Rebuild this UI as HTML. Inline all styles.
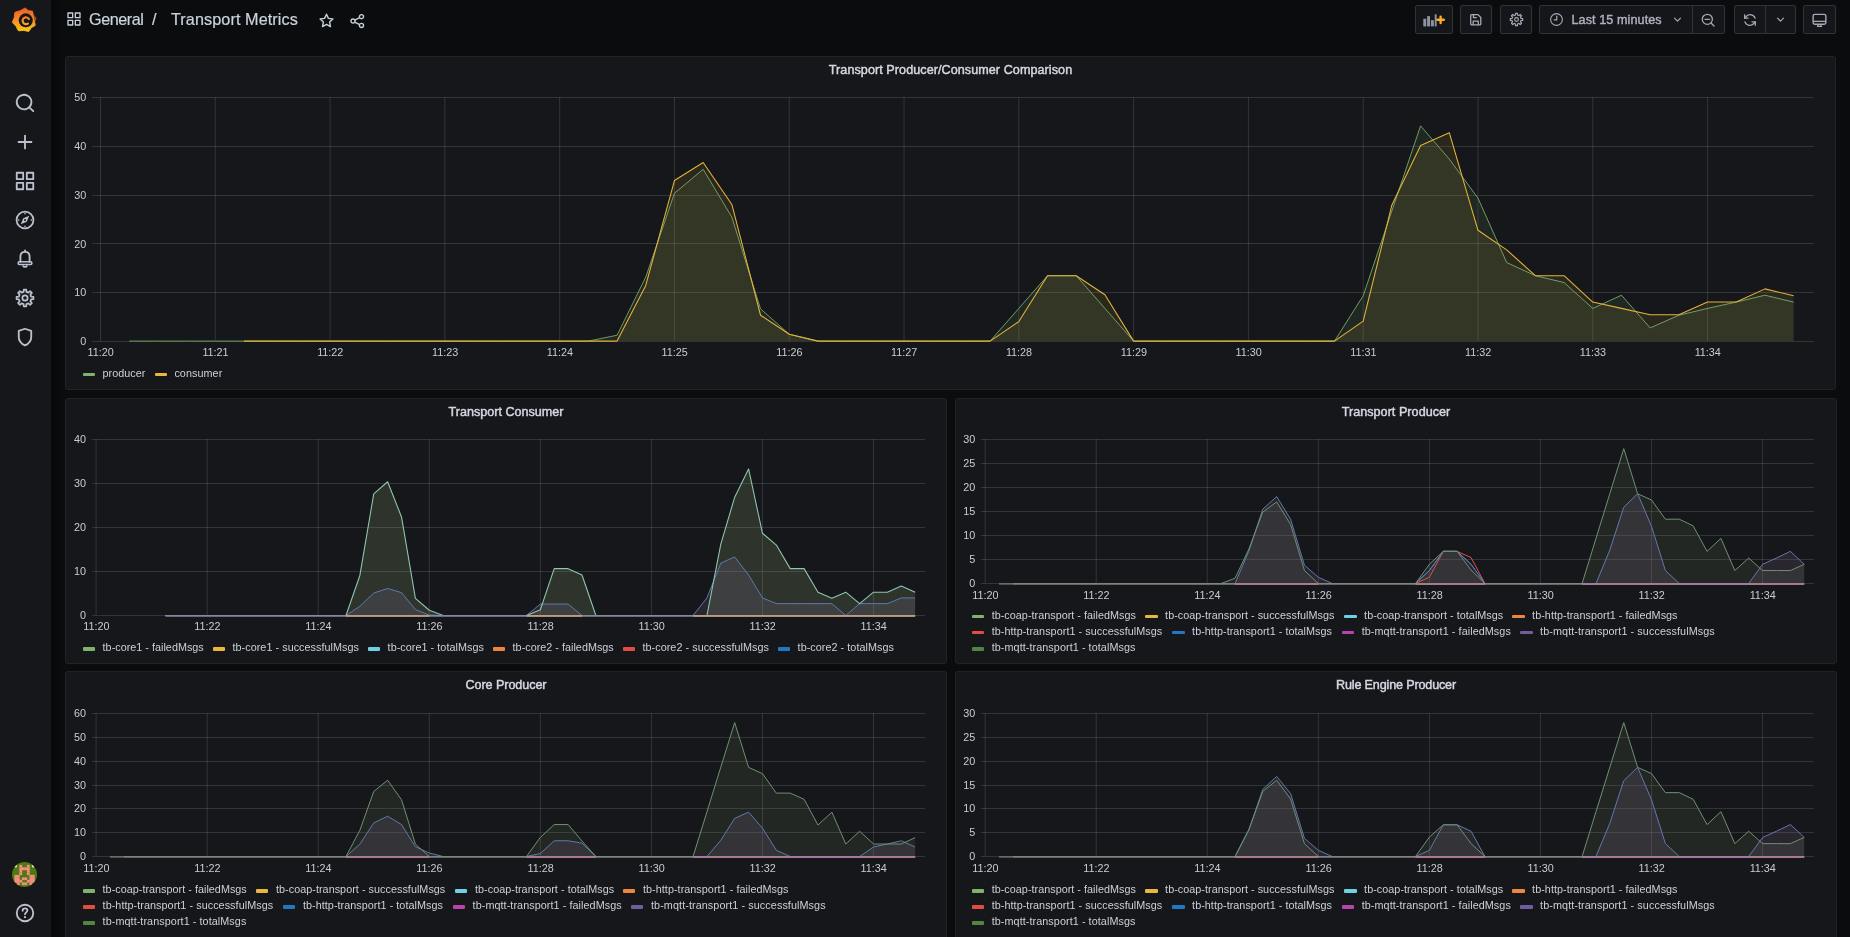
<!DOCTYPE html>
<html lang="en"><head><meta charset="utf-8"><title>Transport Metrics - Grafana</title>
<style>
*{box-sizing:border-box;margin:0;padding:0}
html,body{width:1850px;height:937px;overflow:hidden;background:#0b0c0e;font-family:"Liberation Sans",sans-serif;color:#c7d0d9}
#app{position:absolute;left:0;top:0;width:1850px;height:937px;will-change:transform}
.sidebar{position:absolute;left:0;top:0;width:51px;height:937px;background:#15171a}
.shade{position:absolute;left:51px;top:0;width:12px;height:937px;background:linear-gradient(90deg,#07080a,#090a0c 70%,#0b0c0e)}
.sidebar svg{position:absolute;display:block}
.panel{position:absolute;background:#15171a;border:1px solid #212327;border-radius:3px;overflow:hidden}
.ptitle{position:absolute;left:0;right:0;top:5.4px;text-align:center;font-size:12.6px;font-weight:400;-webkit-text-stroke:0.45px #d5d8e2;color:#d5d8e2;line-height:16px;letter-spacing:0.065px}
.chart{position:absolute;left:-1px;top:-1px}
.tick text{font-size:10.8px;fill:#c9ccd8;font-family:"Liberation Sans",sans-serif}
.legend{position:absolute;left:0;right:0;height:16px;white-space:nowrap;font-size:10.8px;line-height:16px;color:#ccd0da}
.sw{position:absolute;top:8.1px;width:12.3px;height:3.5px;border-radius:1px}
.lt{position:absolute;top:0}

.topbar{position:absolute;left:51px;top:0;right:0;height:40px}
.topbar .abs{position:absolute;margin-left:-51px}
.crumb{position:absolute;left:38px;top:8px;font-size:16.2px;font-weight:400;color:#cbd3dc;-webkit-text-stroke:0.2px #cbd3dc;line-height:22px;white-space:nowrap;letter-spacing:0.1px}
.crumb .c1{letter-spacing:-0.44px}.crumb .c2{margin:0 14.2px 0 8.6px}
.tbtn{position:absolute;top:5px;height:29px;margin-left:-51px;background:#141619;border:1px solid #30333a;border-radius:2px;display:flex;align-items:center;justify-content:center}
.tbtn.left{justify-content:flex-start}
.tbtn.grpl{border-radius:2px 0 0 2px}
.tbtn.grpr{border-radius:0 2px 2px 0}
.tbtn svg{display:block;flex:none}
.tr{font-size:12.6px;font-weight:400;color:#adb3bf;-webkit-text-stroke:0.4px #adb3bf;margin-left:7.9px;letter-spacing:0.09px;display:inline-block}

</style></head><body>
<div id="app">
<div class="shade"></div>
<nav class="sidebar"><svg width="40" height="40" viewBox="0 0 40 40" style="left:5px;top:0"><defs><linearGradient id="lg" gradientUnits="userSpaceOnUse" x1="0" y1="7" x2="0" y2="33"><stop offset="0" stop-color="#f05a28"/><stop offset="0.5" stop-color="#f68b2a"/><stop offset="1" stop-color="#fbd00f"/></linearGradient></defs><path d="M19.33,8.45 L20.15,7.98 L20.89,8.56 L23.35,10.63 L26.57,10.99 L27.48,11.11 L27.68,12.01 L28.30,15.09 L30.60,17.26 L31.25,17.89 L30.87,18.70 L29.51,21.45 L30.15,24.33 L30.26,25.35 L29.40,25.91 L26.32,27.64 L24.51,30.52 L23.75,31.40 L22.60,31.27 L18.63,30.38 L14.57,30.75 L13.41,30.73 L12.78,29.75 L10.94,26.12 L8.07,23.21 L7.35,22.31 L7.70,21.22 L9.32,17.54 L9.62,13.61 L9.90,12.40 L11.03,11.90 L15.22,10.64Z" fill="url(#lg)" stroke="url(#lg)" stroke-width="0.9" stroke-linejoin="round"/><circle cx="20.75" cy="20.35" r="7.0" fill="#15171a"/><path d="M23.9,19.0 A3.4,3.4 0 1 0 22.9,23.6" fill="none" stroke="url(#lg)" stroke-width="2.2" stroke-linecap="round"/><path d="M28.6,15.2 L32.2,16.4 L31.7,20.2 L29.2,19.9 Z" fill="#15171a" opacity="0.45"/></svg><svg width="22" height="22" viewBox="0 0 24 24" style="left:14.0px;top:92.0px" fill="#bcc2cd"><path d="M21.71,20.29,18,16.61A9,9,0,1,0,16.61,18l3.68,3.68a1,1,0,0,0,1.42,0A1,1,0,0,0,21.71,20.29ZM11,18a7,7,0,1,1,7-7A7,7,0,0,1,11,18Z"/></svg><svg width="22" height="22" viewBox="0 0 24 24" style="left:14.0px;top:131.0px" fill="#bcc2cd"><path d="M19,11H13V5a1,1,0,0,0-2,0v6H5a1,1,0,0,0,0,2h6v6a1,1,0,0,0,2,0V13h6a1,1,0,0,0,0-2Z"/></svg><svg width="22" height="22" viewBox="0 0 24 24" style="left:14.0px;top:170.0px" fill="#bcc2cd"><path d="M10,13H3a1,1,0,0,0-1,1v7a1,1,0,0,0,1,1h7a1,1,0,0,0,1-1V14A1,1,0,0,0,10,13ZM9,20H4V15H9ZM21,2H14a1,1,0,0,0-1,1v7a1,1,0,0,0,1,1h7a1,1,0,0,0,1-1V3A1,1,0,0,0,21,2ZM20,9H15V4h5Zm1,4H14a1,1,0,0,0-1,1v7a1,1,0,0,0,1,1h7a1,1,0,0,0,1-1V14A1,1,0,0,0,21,13Zm-1,7H15V15h5ZM10,2H3A1,1,0,0,0,2,3v7a1,1,0,0,0,1,1h7a1,1,0,0,0,1-1V3A1,1,0,0,0,10,2ZM9,9H4V4H9Z"/></svg><svg width="22" height="22" viewBox="0 0 24 24" style="left:14.0px;top:209.0px" fill="#bcc2cd"><circle cx="12" cy="12" r="9.2" fill="none" stroke="#bcc2cd" stroke-width="1.9"/><path d="M12,4.4 V5.8 M12,18.2 V19.6 M4.4,12 H5.8 M18.2,12 H19.6" stroke="#bcc2cd" stroke-width="1.5"/><path d="M16.6,7.4 L13.9,13.9 L7.4,16.6 L10.1,10.1 Z M12,10.9 a1.1,1.1 0 1 0 0.01,0Z" fill-rule="evenodd"/></svg><svg width="22" height="22" viewBox="0 0 24 24" style="left:14.0px;top:248.0px" fill="#bcc2cd"><path d="M12,2.6 V4.2 M12,4.2 C8.8,4.2 7,6.6 7,9.6 V15.2 M12,4.2 C15.2,4.2 17,6.6 17,9.6 V15.2" fill="none" stroke="#bcc2cd" stroke-width="2" stroke-linecap="round"/><rect x="4.6" y="15" width="14.8" height="3" rx="1" fill="none" stroke="#bcc2cd" stroke-width="1.7"/><path d="M10,19.6 C10.4,21 13.6,21 14,19.6" fill="none" stroke="#bcc2cd" stroke-width="1.8" stroke-linecap="round"/></svg><svg width="22" height="22" viewBox="0 0 24 24" style="left:14.0px;top:287.0px" fill="#bcc2cd"><path d="M18.72,10.46 L21.20,10.64 L21.20,13.36 L18.72,13.54 L17.85,15.66 L19.47,17.54 L17.54,19.47 L15.66,17.85 L13.54,18.72 L13.36,21.20 L10.64,21.20 L10.46,18.72 L8.34,17.85 L6.46,19.47 L4.53,17.54 L6.15,15.66 L5.28,13.54 L2.80,13.36 L2.80,10.64 L5.28,10.46 L6.15,8.34 L4.53,6.46 L6.46,4.53 L8.34,6.15 L10.46,5.28 L10.64,2.80 L13.36,2.80 L13.54,5.28 L15.66,6.15 L17.54,4.53 L19.47,6.46 L17.85,8.34Z" fill="none" stroke="#bcc2cd" stroke-width="1.9" stroke-linejoin="round"/><circle cx="12" cy="12" r="2.9" fill="none" stroke="#bcc2cd" stroke-width="1.9"/></svg><svg width="22" height="22" viewBox="0 0 24 24" style="left:14.0px;top:326.0px" fill="#bcc2cd"><path d="M12,3 L5.2,5.2 V12 C5.2,16.2 8,19.4 12,21.2 C16,19.4 18.8,16.2 18.8,12 V5.2 Z" fill="none" stroke="#bcc2cd" stroke-width="2" stroke-linejoin="round"/></svg><svg width="25.2" height="25.2" viewBox="0 0 25.2 25.2" style="left:12.1px;top:861.6px;border-radius:50%"><rect width="25.2" height="25.2" fill="#4a7a10"/><rect x="2.40" y="2.85" width="2.5" height="2.5" fill="#e8e0b0"/><rect x="7.40" y="2.85" width="2.8" height="2.8" fill="#f68c7f"/><rect x="14.90" y="2.85" width="2.8" height="2.8" fill="#f68c7f"/><rect x="19.90" y="2.85" width="2.5" height="2.5" fill="#e8e0b0"/><rect x="7.40" y="5.35" width="2.8" height="2.8" fill="#f68c7f"/><rect x="9.90" y="5.35" width="2.8" height="2.8" fill="#f68c7f"/><rect x="12.40" y="5.35" width="2.8" height="2.8" fill="#f68c7f"/><rect x="14.90" y="5.35" width="2.8" height="2.8" fill="#f68c7f"/><rect x="7.40" y="7.85" width="2.8" height="2.8" fill="#f68c7f"/><rect x="14.90" y="7.85" width="2.8" height="2.8" fill="#f68c7f"/><rect x="7.40" y="10.35" width="2.8" height="2.8" fill="#f68c7f"/><rect x="14.90" y="10.35" width="2.8" height="2.8" fill="#f68c7f"/><rect x="2.40" y="12.85" width="2.8" height="2.8" fill="#f68c7f"/><rect x="4.90" y="12.85" width="2.8" height="2.8" fill="#f68c7f"/><rect x="17.40" y="12.85" width="2.8" height="2.8" fill="#f68c7f"/><rect x="19.90" y="12.85" width="2.8" height="2.8" fill="#f68c7f"/><rect x="2.40" y="15.35" width="2.8" height="2.8" fill="#f68c7f"/><rect x="4.90" y="15.35" width="2.8" height="2.8" fill="#f68c7f"/><rect x="9.90" y="15.35" width="2.8" height="2.8" fill="#f68c7f"/><rect x="12.40" y="15.35" width="2.8" height="2.8" fill="#f68c7f"/><rect x="17.40" y="15.35" width="2.8" height="2.8" fill="#f68c7f"/><rect x="19.90" y="15.35" width="2.8" height="2.8" fill="#f68c7f"/><rect x="2.40" y="17.85" width="2.8" height="2.8" fill="#f68c7f"/><rect x="4.90" y="17.85" width="2.8" height="2.8" fill="#f68c7f"/><rect x="7.40" y="17.85" width="2.8" height="2.8" fill="#f68c7f"/><rect x="14.90" y="17.85" width="2.8" height="2.8" fill="#f68c7f"/><rect x="17.40" y="17.85" width="2.8" height="2.8" fill="#f68c7f"/><rect x="19.90" y="17.85" width="2.8" height="2.8" fill="#f68c7f"/><rect x="4.90" y="20.35" width="2.8" height="2.8" fill="#f68c7f"/><rect x="9.90" y="20.35" width="2.8" height="2.8" fill="#f68c7f"/><rect x="12.40" y="20.35" width="2.8" height="2.8" fill="#f68c7f"/><rect x="17.40" y="20.35" width="2.8" height="2.8" fill="#f68c7f"/></svg><svg width="22" height="22" viewBox="0 0 24 24" style="left:14.0px;top:902.0px" fill="#bcc2cd"><circle cx="12" cy="12" r="9" fill="none" stroke="#bcc2cd" stroke-width="2"/><path d="M9.4,9.6 C9.4,8 10.5,7 12,7 C13.5,7 14.6,8 14.6,9.4 C14.6,11.2 12,11.4 12,13.4" fill="none" stroke="#bcc2cd" stroke-width="2" stroke-linecap="round"/><circle cx="12" cy="16.6" r="1.2"/></svg></nav><header class="topbar"><svg class="abs" width="16" height="16" viewBox="0 0 24 24" fill="#c7d0d9" style="left:65.6px;top:11px"><path d="M10,13H3a1,1,0,0,0-1,1v7a1,1,0,0,0,1,1h7a1,1,0,0,0,1-1V14A1,1,0,0,0,10,13ZM9,20H4V15H9ZM21,2H14a1,1,0,0,0-1,1v7a1,1,0,0,0,1,1h7a1,1,0,0,0,1-1V3A1,1,0,0,0,21,2ZM20,9H15V4h5Zm1,4H14a1,1,0,0,0-1,1v7a1,1,0,0,0,1,1h7a1,1,0,0,0,1-1V14A1,1,0,0,0,21,13Zm-1,7H15V15h5ZM10,2H3A1,1,0,0,0,2,3v7a1,1,0,0,0,1,1h7a1,1,0,0,0,1-1V3A1,1,0,0,0,10,2ZM9,9H4V4H9Z"/></svg><h1 class="crumb"><span class="c1">General</span><span class="c2">/</span><span class="c3">Transport Metrics</span></h1><svg class="abs" width="17" height="17" viewBox="0 0 24 24" style="left:318px;top:12px"><path d="M12,3.2 L14.7,9 L21,9.8 L16.4,14.2 L17.6,20.6 L12,17.5 L6.4,20.6 L7.6,14.2 L3,9.8 L9.3,9 Z" fill="none" stroke="#c7d0d9" stroke-width="2" stroke-linejoin="round"/></svg><svg class="abs" width="16" height="16" viewBox="0 0 24 24" style="left:348.5px;top:12.7px"><g fill="none" stroke="#c7d0d9" stroke-width="2.1"><circle cx="18.7" cy="5.5" r="3.1"/><circle cx="6" cy="12.1" r="3.1"/><circle cx="18.7" cy="18.7" r="3.1"/><path d="M8.7,10.6 L16,6.9 M8.7,13.6 L16,17.3"/></g></svg><div class="tbtn " style="left:1415px;width:38px"><svg width="22" height="22" viewBox="0 0 30 24" fill="#a3aab6" style="width:22px;height:17.6px"><g fill="#8e949f"><rect x="0.4" y="10.5" width="4" height="10.5"/><rect x="5.6" y="7" width="4" height="14"/><rect x="10.8" y="12.5" width="4" height="8.5"/><rect x="16" y="4.5" width="2.6" height="16.5"/></g><path d="M24,7 V17 M19,12 H29" stroke="#15171a" stroke-width="6.5" /><path d="M24,7.6 V16.4 M19.6,12 H28.4" stroke="#ffb020" stroke-width="3.2" stroke-linecap="round"/></svg></div><div class="tbtn " style="left:1460px;width:32px"><svg width="15.5" height="15.5" viewBox="0 0 24 24" fill="#a3aab6" ><path d="M4.2,5.6 C4.2,4.6 4.8,4 5.8,4 H15.4 L19.8,8.4 V18.4 C19.8,19.4 19.2,20 18.2,20 H5.8 C4.8,20 4.2,19.4 4.2,18.4 Z" fill="none" stroke="#a3aab6" stroke-width="2" stroke-linejoin="round"/><path d="M8,20 V14.2 H16 V20 M8.4,4.4 V8.6 H13.6" fill="none" stroke="#a3aab6" stroke-width="2" stroke-linejoin="round"/></svg></div><div class="tbtn " style="left:1500px;width:32px"><svg width="15" height="15" viewBox="0 0 24 24" fill="#a3aab6" ><path d="M19.21,10.34 L21.89,10.53 L21.89,13.47 L19.21,13.66 L18.27,15.93 L20.03,17.96 L17.96,20.03 L15.93,18.27 L13.66,19.21 L13.47,21.89 L10.53,21.89 L10.34,19.21 L8.07,18.27 L6.04,20.03 L3.97,17.96 L5.73,15.93 L4.79,13.66 L2.11,13.47 L2.11,10.53 L4.79,10.34 L5.73,8.07 L3.97,6.04 L6.04,3.97 L8.07,5.73 L10.34,4.79 L10.53,2.11 L13.47,2.11 L13.66,4.79 L15.93,5.73 L17.96,3.97 L20.03,6.04 L18.27,8.07Z" fill="none" stroke="#a3aab6" stroke-width="1.9" stroke-linejoin="round"/><circle cx="12" cy="12" r="3" fill="none" stroke="#a3aab6" stroke-width="1.9"/></svg></div><div class="tbtn left grpl" style="left:1539px;width:154px"><svg width="15" height="15" viewBox="0 0 24 24" fill="#a3aab6" style="margin-left:8.6px"><circle cx="12" cy="12" r="9.4" fill="none" stroke="#a3aab6" stroke-width="1.8"/><path d="M12.4,6.6 V12.4 H8.4" fill="none" stroke="#a3aab6" stroke-width="2" stroke-linecap="round"/></svg><span class="tr">Last 15 minutes</span><svg width="13" height="13" viewBox="0 0 24 24" fill="#a3aab6" style="margin-left:9.6px"><path d="M6.5,9.5 L12,15 L17.5,9.5" fill="none" stroke="#a3aab6" stroke-width="2.2" stroke-linecap="round" stroke-linejoin="round"/></svg></div><div class="tbtn grpr" style="left:1692px;width:33px"><svg width="16" height="16" viewBox="0 0 24 24" fill="#a3aab6" style="margin-left:-2px"><circle cx="11" cy="11" r="7.6" fill="none" stroke="#a3aab6" stroke-width="1.9"/><path d="M16.6,16.6 L21,21 M7.6,11 H14.4" stroke="#a3aab6" stroke-width="2" stroke-linecap="round"/></svg></div><div class="tbtn grpl" style="left:1734px;width:32px"><svg width="16" height="16" viewBox="0 0 24 24" fill="#a3aab6" ><g fill="none" stroke="#a3aab6" stroke-width="2" stroke-linecap="round" stroke-linejoin="round"><path d="M19.6,9.2 A8,8 0 0 0 5.4,7.6 L4,9"/><path d="M4,4.2 V9.2 H9"/><path d="M4.4,14.8 A8,8 0 0 0 18.6,16.4 L20,15"/><path d="M20,19.8 V14.8 H15"/></g></svg></div><div class="tbtn grpr" style="left:1765px;width:31px"><svg width="13" height="13" viewBox="0 0 24 24" fill="#a3aab6" ><path d="M6.5,9.5 L12,15 L17.5,9.5" fill="none" stroke="#a3aab6" stroke-width="2.2" stroke-linecap="round" stroke-linejoin="round"/></svg></div><div class="tbtn " style="left:1803px;width:33px"><svg width="17" height="17" viewBox="0 0 24 24" fill="#a3aab6" style="margin-top:1px"><rect x="3" y="3.4" width="18" height="13.8" rx="2.4" fill="none" stroke="#a3aab6" stroke-width="2"/><path d="M3.4,13.2 H20.6" stroke="#a3aab6" stroke-width="1.8"/><path d="M9.2,20.4 H14.8 M9.8,17.4 V20.2 M14.2,17.4 V20.2" stroke="#a3aab6" stroke-width="1.8" stroke-linecap="round"/></svg></div></header>
<main>
<section class="panel" style="left:65px;top:56px;width:1771px;height:334px"><h2 class="ptitle" style="letter-spacing:0.063px">Transport Producer/Consumer Comparison</h2><svg class="chart" width="1771" height="334" viewBox="65 56 1771 334"><g stroke="rgba(204,204,220,0.16)" stroke-width="1" shape-rendering="crispEdges"><line x1="92" y1="341.5" x2="1813.5" y2="341.5"/><line x1="92" y1="292.5" x2="1813.5" y2="292.5"/><line x1="92" y1="243.5" x2="1813.5" y2="243.5"/><line x1="92" y1="195.5" x2="1813.5" y2="195.5"/><line x1="92" y1="146.5" x2="1813.5" y2="146.5"/><line x1="92" y1="97.5" x2="1813.5" y2="97.5"/></g><g stroke="rgba(204,204,220,0.16)" stroke-width="1"><line x1="100.5" y1="97" x2="100.5" y2="341"/><line x1="215.29" y1="97" x2="215.29" y2="341"/><line x1="330.08" y1="97" x2="330.08" y2="341"/><line x1="444.87" y1="97" x2="444.87" y2="341"/><line x1="559.66" y1="97" x2="559.66" y2="341"/><line x1="674.45" y1="97" x2="674.45" y2="341"/><line x1="789.24" y1="97" x2="789.24" y2="341"/><line x1="904.03" y1="97" x2="904.03" y2="341"/><line x1="1018.82" y1="97" x2="1018.82" y2="341"/><line x1="1133.61" y1="97" x2="1133.61" y2="341"/><line x1="1248.4" y1="97" x2="1248.4" y2="341"/><line x1="1363.19" y1="97" x2="1363.19" y2="341"/><line x1="1477.98" y1="97" x2="1477.98" y2="341"/><line x1="1592.77" y1="97" x2="1592.77" y2="341"/><line x1="1707.56" y1="97" x2="1707.56" y2="341"/></g><g class="tick"><text x="86.3" y="345.1" text-anchor="end">0</text><text x="86.3" y="296.3" text-anchor="end">10</text><text x="86.3" y="247.5" text-anchor="end">20</text><text x="86.3" y="198.7" text-anchor="end">30</text><text x="86.3" y="149.9" text-anchor="end">40</text><text x="86.3" y="101.1" text-anchor="end">50</text><text x="100.7" y="356.2" text-anchor="middle">11:20</text><text x="215.49" y="356.2" text-anchor="middle">11:21</text><text x="330.28" y="356.2" text-anchor="middle">11:22</text><text x="445.07" y="356.2" text-anchor="middle">11:23</text><text x="559.86" y="356.2" text-anchor="middle">11:24</text><text x="674.65" y="356.2" text-anchor="middle">11:25</text><text x="789.44" y="356.2" text-anchor="middle">11:26</text><text x="904.23" y="356.2" text-anchor="middle">11:27</text><text x="1019.02" y="356.2" text-anchor="middle">11:28</text><text x="1133.81" y="356.2" text-anchor="middle">11:29</text><text x="1248.6" y="356.2" text-anchor="middle">11:30</text><text x="1363.39" y="356.2" text-anchor="middle">11:31</text><text x="1478.18" y="356.2" text-anchor="middle">11:32</text><text x="1592.97" y="356.2" text-anchor="middle">11:33</text><text x="1707.76" y="356.2" text-anchor="middle">11:34</text></g><path d="M129.2,341.1 L157.9,341.1 L186.59,341.1 L215.29,341.1 L243.99,341.1 L272.69,341.1 L301.38,341.1 L330.08,341.1 L358.78,341.1 L387.48,341.1 L416.17,341.1 L444.87,341.1 L473.57,341.1 L502.27,341.1 L530.96,341.1 L559.66,341.1 L588.36,341.1 L617.06,335.24 L645.75,277.17 L674.45,193.24 L703.15,169.32 L731.85,217.15 L760.54,308.89 L789.24,334.27 L817.94,341.1 L846.63,341.1 L875.33,341.1 L904.03,341.1 L932.73,341.1 L961.43,341.1 L990.12,341.1 L1018.82,308.4 L1047.52,275.71 L1076.22,275.71 L1104.91,308.4 L1133.61,341.1 L1162.31,341.1 L1191.01,341.1 L1219.7,341.1 L1248.4,341.1 L1277.1,341.1 L1305.8,341.1 L1334.49,341.1 L1363.19,295.72 L1391.89,210.8 L1420.59,125.89 L1449.28,159.08 L1477.98,198.12 L1506.68,262.53 L1535.38,275.71 L1564.07,282.54 L1592.77,308.4 L1621.47,295.23 L1650.17,327.92 L1678.86,315.24 L1707.56,308.4 L1736.26,302.06 L1764.96,295.23 L1793.65,302.06 L1793.65,341.1 L129.2,341.1Z" fill="rgba(126,178,109,0.115)" stroke="none"/><path d="M243.99,341.1 L272.69,341.1 L301.38,341.1 L330.08,341.1 L358.78,341.1 L387.48,341.1 L416.17,341.1 L444.87,341.1 L473.57,341.1 L502.27,341.1 L530.96,341.1 L559.66,341.1 L588.36,341.1 L617.06,341.1 L645.75,285.47 L674.45,180.55 L703.15,162.49 L731.85,204.46 L760.54,315.24 L789.24,334.27 L817.94,341.1 L846.63,341.1 L875.33,341.1 L904.03,341.1 L932.73,341.1 L961.43,341.1 L990.12,341.1 L1018.82,321.58 L1047.52,275.71 L1076.22,275.71 L1104.91,294.74 L1133.61,341.1 L1162.31,341.1 L1191.01,341.1 L1219.7,341.1 L1248.4,341.1 L1277.1,341.1 L1305.8,341.1 L1334.49,341.1 L1363.19,321.09 L1391.89,204.95 L1420.59,145.41 L1449.28,132.72 L1477.98,230.32 L1506.68,249.84 L1535.38,275.71 L1564.07,275.71 L1592.77,302.06 L1621.47,308.4 L1650.17,314.75 L1678.86,314.75 L1707.56,302.06 L1736.26,302.06 L1764.96,288.88 L1793.65,295.72 L1793.65,341.1 L243.99,341.1Z" fill="rgba(234,184,57,0.10)" stroke="none"/><path d="M129.2,341.1 L157.9,341.1 L186.59,341.1 L215.29,341.1 L243.99,341.1 L272.69,341.1 L301.38,341.1 L330.08,341.1 L358.78,341.1 L387.48,341.1 L416.17,341.1 L444.87,341.1 L473.57,341.1 L502.27,341.1 L530.96,341.1 L559.66,341.1 L588.36,341.1 L617.06,335.24 L645.75,277.17 L674.45,193.24 L703.15,169.32 L731.85,217.15 L760.54,308.89 L789.24,334.27 L817.94,341.1 L846.63,341.1 L875.33,341.1 L904.03,341.1 L932.73,341.1 L961.43,341.1 L990.12,341.1 L1018.82,308.4 L1047.52,275.71 L1076.22,275.71 L1104.91,308.4 L1133.61,341.1 L1162.31,341.1 L1191.01,341.1 L1219.7,341.1 L1248.4,341.1 L1277.1,341.1 L1305.8,341.1 L1334.49,341.1 L1363.19,295.72 L1391.89,210.8 L1420.59,125.89 L1449.28,159.08 L1477.98,198.12 L1506.68,262.53 L1535.38,275.71 L1564.07,282.54 L1592.77,308.4 L1621.47,295.23 L1650.17,327.92 L1678.86,315.24 L1707.56,308.4 L1736.26,302.06 L1764.96,295.23 L1793.65,302.06" fill="none" stroke="#7EB26D" stroke-width="1.0" stroke-linejoin="round" opacity="0.85"/><path d="M243.99,341.1 L272.69,341.1 L301.38,341.1 L330.08,341.1 L358.78,341.1 L387.48,341.1 L416.17,341.1 L444.87,341.1 L473.57,341.1 L502.27,341.1 L530.96,341.1 L559.66,341.1 L588.36,341.1 L617.06,341.1 L645.75,285.47 L674.45,180.55 L703.15,162.49 L731.85,204.46 L760.54,315.24 L789.24,334.27 L817.94,341.1 L846.63,341.1 L875.33,341.1 L904.03,341.1 L932.73,341.1 L961.43,341.1 L990.12,341.1 L1018.82,321.58 L1047.52,275.71 L1076.22,275.71 L1104.91,294.74 L1133.61,341.1 L1162.31,341.1 L1191.01,341.1 L1219.7,341.1 L1248.4,341.1 L1277.1,341.1 L1305.8,341.1 L1334.49,341.1 L1363.19,321.09 L1391.89,204.95 L1420.59,145.41 L1449.28,132.72 L1477.98,230.32 L1506.68,249.84 L1535.38,275.71 L1564.07,275.71 L1592.77,302.06 L1621.47,308.4 L1650.17,314.75 L1678.86,314.75 L1707.56,302.06 L1736.26,302.06 L1764.96,288.88 L1793.65,295.72" fill="none" stroke="#e2b23b" stroke-width="1.08" stroke-linejoin="round" opacity="1"/></svg><div class="legend" style="top:307.6px"><i class="sw" style="left:16.8px;background:#7EB26D"></i><span class="lt" style="left:36.6px;letter-spacing:0.009px">producer</span><i class="sw" style="left:88.6px;background:#EAB839"></i><span class="lt" style="left:108.4px;letter-spacing:0.062px">consumer</span></div></section><section class="panel" style="left:65px;top:398px;width:882px;height:266px"><h2 class="ptitle" style="letter-spacing:0.004px">Transport Consumer</h2><svg class="chart" width="882" height="266" viewBox="65 398 882 266"><g stroke="rgba(204,204,220,0.16)" stroke-width="1" shape-rendering="crispEdges"><line x1="92" y1="615.5" x2="925" y2="615.5"/><line x1="92" y1="571.5" x2="925" y2="571.5"/><line x1="92" y1="527.5" x2="925" y2="527.5"/><line x1="92" y1="483.5" x2="925" y2="483.5"/><line x1="92" y1="439.5" x2="925" y2="439.5"/></g><g stroke="rgba(204,204,220,0.16)" stroke-width="1"><line x1="96.1" y1="439" x2="96.1" y2="615"/><line x1="207.16" y1="439" x2="207.16" y2="615"/><line x1="318.22" y1="439" x2="318.22" y2="615"/><line x1="429.28" y1="439" x2="429.28" y2="615"/><line x1="540.34" y1="439" x2="540.34" y2="615"/><line x1="651.4" y1="439" x2="651.4" y2="615"/><line x1="762.46" y1="439" x2="762.46" y2="615"/><line x1="873.52" y1="439" x2="873.52" y2="615"/></g><g class="tick"><text x="86" y="619.1" text-anchor="end">0</text><text x="86" y="575.1" text-anchor="end">10</text><text x="86" y="531.1" text-anchor="end">20</text><text x="86" y="487.1" text-anchor="end">30</text><text x="86" y="443.1" text-anchor="end">40</text><text x="96.3" y="630.2" text-anchor="middle">11:20</text><text x="207.36" y="630.2" text-anchor="middle">11:22</text><text x="318.42" y="630.2" text-anchor="middle">11:24</text><text x="429.48" y="630.2" text-anchor="middle">11:26</text><text x="540.54" y="630.2" text-anchor="middle">11:28</text><text x="651.6" y="630.2" text-anchor="middle">11:30</text><text x="762.66" y="630.2" text-anchor="middle">11:32</text><text x="873.72" y="630.2" text-anchor="middle">11:34</text></g><path d="M165.51,615.5 L179.39,615.5 L193.28,615.5 L207.16,615.5 L221.04,615.5 L234.92,615.5 L248.81,615.5 L262.69,615.5 L276.57,615.5 L290.46,615.5 L304.34,615.5 L318.22,615.5 L332.1,615.5 L345.99,615.5 L359.87,575.46 L373.75,493.84 L387.63,481.74 L401.51,516.94 L415.4,598.34 L429.28,610.22 L443.16,615.5 L457.04,615.5 L470.93,615.5 L484.81,615.5 L498.69,615.5 L512.58,615.5 L526.46,615.5 L540.34,609.78 L554.22,568.64 L568.11,568.64 L581.99,575.02 L595.87,615.5 L609.75,615.5 L623.63,615.5 L637.52,615.5 L651.4,615.5 L665.28,615.5 L679.17,615.5 L693.05,615.5 L706.93,615.5 L720.81,544.22 L734.7,497.14 L748.58,468.98 L762.46,533.22 L776.34,545.1 L790.23,568.64 L804.11,568.64 L817.99,592.18 L831.87,598.34 L845.75,592.18 L859.64,603.62 L873.52,592.18 L887.4,592.18 L901.29,586.02 L915.17,592.18 L915.17,615.5 L165.51,615.5Z" fill="rgba(195,215,145,0.15)" stroke="none"/><path d="M165.51,615.5 L179.39,615.5 L193.28,615.5 L207.16,615.5 L221.04,615.5 L234.92,615.5 L248.81,615.5 L262.69,615.5 L276.57,615.5 L290.46,615.5 L304.34,615.5 L318.22,615.5 L332.1,615.5 L345.99,615.5 L359.87,606.26 L373.75,593.06 L387.63,588.44 L401.51,592.62 L415.4,609.56 L429.28,615.06 L443.16,615.5 L457.04,615.5 L470.93,615.5 L484.81,615.5 L498.69,615.5 L512.58,615.5 L526.46,615.5 L540.34,604.06 L554.22,604.06 L568.11,604.06 L581.99,615.5 L595.87,615.5 L609.75,615.5 L623.63,615.5 L637.52,615.5 L651.4,615.5 L665.28,615.5 L679.17,615.5 L693.05,615.5 L706.93,597.9 L720.81,563.14 L734.7,556.98 L748.58,575.02 L762.46,597.9 L776.34,603.62 L790.23,603.62 L804.11,603.62 L817.99,603.62 L831.87,603.62 L845.75,615.5 L859.64,603.62 L873.52,603.62 L887.4,603.62 L901.29,597.9 L915.17,597.9 L915.17,615.5 L165.51,615.5Z" fill="rgba(155,131,181,0.15)" stroke="none"/><path d="M165.51,615.5 L179.39,615.5 L193.28,615.5 L207.16,615.5 L221.04,615.5 L234.92,615.5 L248.81,615.5 L262.69,615.5 L276.57,615.5 L290.46,615.5 L304.34,615.5 L318.22,615.5 L332.1,615.5 L345.99,615.5 L359.87,606.26 L373.75,593.06 L387.63,588.44 L401.51,592.62 L415.4,609.56 L429.28,615.06 L443.16,615.5 L457.04,615.5 L470.93,615.5 L484.81,615.5 L498.69,615.5 L512.58,615.5 L526.46,615.5 L540.34,604.06 L554.22,604.06 L568.11,604.06 L581.99,615.5 L595.87,615.5 L609.75,615.5 L623.63,615.5 L637.52,615.5 L651.4,615.5 L665.28,615.5 L679.17,615.5 L693.05,615.5 L706.93,597.9 L720.81,563.14 L734.7,556.98 L748.58,575.02 L762.46,597.9 L776.34,603.62 L790.23,603.62 L804.11,603.62 L817.99,603.62 L831.87,603.62 L845.75,615.5 L859.64,603.62 L873.52,603.62 L887.4,603.62 L901.29,597.9 L915.17,597.9" fill="none" stroke="#5b7ab0" stroke-width="1.0" stroke-linejoin="round" opacity="1"/><path d="M165.51,615.5 L179.39,615.5 L193.28,615.5 L207.16,615.5 L221.04,615.5 L234.92,615.5 L248.81,615.5 L262.69,615.5 L276.57,615.5 L290.46,615.5 L304.34,615.5 L318.22,615.5 L332.1,615.5 L345.99,615.5 L359.87,575.46 L373.75,493.84 L387.63,481.74 L401.51,516.94 L415.4,598.34 L429.28,610.22 L443.16,615.5 L457.04,615.5 L470.93,615.5 L484.81,615.5 L498.69,615.5 L512.58,615.5 L526.46,615.5 L540.34,609.78 L554.22,568.64 L568.11,568.64 L581.99,575.02 L595.87,615.5 L609.75,615.5 L623.63,615.5 L637.52,615.5 L651.4,615.5 L665.28,615.5 L679.17,615.5 L693.05,615.5 L706.93,615.5 L720.81,544.22 L734.7,497.14 L748.58,468.98 L762.46,533.22 L776.34,545.1 L790.23,568.64 L804.11,568.64 L817.99,592.18 L831.87,598.34 L845.75,592.18 L859.64,603.62 L873.52,592.18 L887.4,592.18 L901.29,586.02 L915.17,592.18" fill="none" stroke="#8fc6ad" stroke-width="1.08" stroke-linejoin="round" opacity="1"/><line x1="165.51" y1="615.9" x2="915.17" y2="615.9" stroke="#8587a0" stroke-width="1.6"/><line x1="345.99" y1="615.9" x2="429.28" y2="615.9" stroke="#c29c7a" stroke-width="1.6"/><line x1="526.46" y1="615.9" x2="581.99" y2="615.9" stroke="#c29c7a" stroke-width="1.6"/><line x1="693.05" y1="615.9" x2="915.17" y2="615.9" stroke="#c29c7a" stroke-width="1.6"/></svg><div class="legend" style="top:240.1px"><i class="sw" style="left:16.8px;background:#7EB26D"></i><span class="lt" style="left:36.6px;letter-spacing:0.018px">tb-core1 - failedMsgs</span><i class="sw" style="left:146.7px;background:#EAB839"></i><span class="lt" style="left:166.5px;letter-spacing:0.044px">tb-core1 - successfulMsgs</span><i class="sw" style="left:301.8px;background:#6ED0E0"></i><span class="lt" style="left:321.6px;letter-spacing:0.045px">tb-core1 - totalMsgs</span><i class="sw" style="left:426.8px;background:#EF843C"></i><span class="lt" style="left:446.6px;letter-spacing:0.018px">tb-core2 - failedMsgs</span><i class="sw" style="left:556.7px;background:#E24D42"></i><span class="lt" style="left:576.5px;letter-spacing:0.044px">tb-core2 - successfulMsgs</span><i class="sw" style="left:711.8px;background:#1F78C1"></i><span class="lt" style="left:731.6px;letter-spacing:0.045px">tb-core2 - totalMsgs</span></div></section><section class="panel" style="left:955px;top:398px;width:882px;height:266px"><h2 class="ptitle" style="letter-spacing:0.032px">Transport Producer</h2><svg class="chart" width="882" height="266" viewBox="955 398 882 266"><g stroke="rgba(204,204,220,0.16)" stroke-width="1" shape-rendering="crispEdges"><line x1="981" y1="583.5" x2="1814" y2="583.5"/><line x1="981" y1="559.5" x2="1814" y2="559.5"/><line x1="981" y1="535.5" x2="1814" y2="535.5"/><line x1="981" y1="511.5" x2="1814" y2="511.5"/><line x1="981" y1="487.5" x2="1814" y2="487.5"/><line x1="981" y1="463.5" x2="1814" y2="463.5"/><line x1="981" y1="439.5" x2="1814" y2="439.5"/></g><g stroke="rgba(204,204,220,0.16)" stroke-width="1"><line x1="985.16" y1="439" x2="985.16" y2="583"/><line x1="1096.22" y1="439" x2="1096.22" y2="583"/><line x1="1207.28" y1="439" x2="1207.28" y2="583"/><line x1="1318.34" y1="439" x2="1318.34" y2="583"/><line x1="1429.4" y1="439" x2="1429.4" y2="583"/><line x1="1540.46" y1="439" x2="1540.46" y2="583"/><line x1="1651.52" y1="439" x2="1651.52" y2="583"/><line x1="1762.58" y1="439" x2="1762.58" y2="583"/></g><g class="tick"><text x="975.2" y="587.1" text-anchor="end">0</text><text x="975.2" y="563.1" text-anchor="end">5</text><text x="975.2" y="539.1" text-anchor="end">10</text><text x="975.2" y="515.1" text-anchor="end">15</text><text x="975.2" y="491.1" text-anchor="end">20</text><text x="975.2" y="467.1" text-anchor="end">25</text><text x="975.2" y="443.1" text-anchor="end">30</text><text x="985.36" y="599.2" text-anchor="middle">11:20</text><text x="1096.42" y="599.2" text-anchor="middle">11:22</text><text x="1207.48" y="599.2" text-anchor="middle">11:24</text><text x="1318.54" y="599.2" text-anchor="middle">11:26</text><text x="1429.6" y="599.2" text-anchor="middle">11:28</text><text x="1540.66" y="599.2" text-anchor="middle">11:30</text><text x="1651.72" y="599.2" text-anchor="middle">11:32</text><text x="1762.78" y="599.2" text-anchor="middle">11:34</text></g><path d="M999.04,583.5 L1012.92,583.5 L1026.81,583.5 L1040.69,583.5 L1054.57,583.5 L1068.45,583.5 L1082.34,583.5 L1096.22,583.5 L1110.1,583.5 L1123.98,583.5 L1137.87,583.5 L1151.75,583.5 L1165.63,583.5 L1179.51,583.5 L1193.4,583.5 L1207.28,583.5 L1221.16,583.5 L1235.05,578.22 L1248.93,548.94 L1262.81,511.98 L1276.69,501.9 L1290.58,524.46 L1304.46,570.54 L1318.34,583.5 L1332.22,583.5 L1346.11,583.5 L1359.99,583.5 L1373.87,583.5 L1387.75,583.5 L1401.63,583.5 L1415.52,583.5 L1429.4,564.3 L1443.28,551.34 L1457.16,551.34 L1471.05,570.06 L1484.93,583.5 L1498.81,583.5 L1512.69,583.5 L1526.58,583.5 L1540.46,583.5 L1554.34,583.5 L1568.22,583.5 L1582.11,583.5 L1595.99,538.38 L1609.87,493.5 L1623.76,448.62 L1637.64,493.74 L1651.52,499.98 L1665.4,519.18 L1679.28,519.18 L1693.17,525.9 L1707.05,551.34 L1720.93,538.38 L1734.82,570.54 L1748.7,558.06 L1762.58,570.54 L1776.46,570.54 L1790.35,570.54 L1804.23,564.3 L1804.23,583.5 L999.04,583.5Z" fill="rgba(135,160,115,0.12)" stroke="none"/><path d="M1012.92,583.5 L1026.81,583.5 L1040.69,583.5 L1054.57,583.5 L1068.45,583.5 L1082.34,583.5 L1096.22,583.5 L1110.1,583.5 L1123.98,583.5 L1137.87,583.5 L1151.75,583.5 L1165.63,583.5 L1179.51,583.5 L1193.4,583.5 L1207.28,583.5 L1221.16,583.5 L1235.05,583.5 L1248.93,550.86 L1262.81,509.1 L1276.69,496.62 L1290.58,519.18 L1304.46,565.26 L1318.34,577.26 L1332.22,583.5 L1346.11,583.5 L1359.99,583.5 L1373.87,583.5 L1387.75,583.5 L1401.63,583.5 L1415.52,583.5 L1429.4,570.54 L1443.28,551.34 L1457.16,551.34 L1471.05,564.3 L1484.93,583.5 L1498.81,583.5 L1512.69,583.5 L1526.58,583.5 L1540.46,583.5 L1554.34,583.5 L1568.22,583.5 L1582.11,583.5 L1595.99,583.5 L1609.87,549.9 L1623.76,507.18 L1637.64,493.74 L1651.52,526.38 L1665.4,570.54 L1679.28,583.5 L1693.17,583.5 L1707.05,583.5 L1720.93,583.5 L1734.82,583.5 L1748.7,583.5 L1762.58,564.3 L1776.46,558.06 L1790.35,551.34 L1804.23,564.3 L1804.23,583.5 L1012.92,583.5Z" fill="rgba(140,112,155,0.17)" stroke="none"/><path d="M1415.52,583.5 L1429.4,570.54 L1443.28,551.34 L1457.16,551.34 L1471.05,564.3 L1484.93,583.5" fill="none" stroke="#3f7fc0" stroke-width="1.0" stroke-linejoin="round" opacity="1"/><path d="M1415.52,583.5 L1429.4,577.26 L1443.28,551.34 L1457.16,551.34 L1471.05,557.58 L1484.93,583.5" fill="none" stroke="#d9534a" stroke-width="1.0" stroke-linejoin="round" opacity="1"/><path d="M1012.92,583.5 L1026.81,583.5 L1040.69,583.5 L1054.57,583.5 L1068.45,583.5 L1082.34,583.5 L1096.22,583.5 L1110.1,583.5 L1123.98,583.5 L1137.87,583.5 L1151.75,583.5 L1165.63,583.5 L1179.51,583.5 L1193.4,583.5 L1207.28,583.5 L1221.16,583.5 L1235.05,583.5 L1248.93,550.86 L1262.81,509.1 L1276.69,496.62 L1290.58,519.18 L1304.46,565.26 L1318.34,577.26 L1332.22,583.5 L1346.11,583.5 L1359.99,583.5 L1373.87,583.5 L1387.75,583.5 L1401.63,583.5 L1415.52,583.5 L1429.4,570.54 L1443.28,551.34 L1457.16,551.34 L1471.05,564.3 L1484.93,583.5 L1498.81,583.5 L1512.69,583.5 L1526.58,583.5 L1540.46,583.5 L1554.34,583.5 L1568.22,583.5 L1582.11,583.5 L1595.99,583.5 L1609.87,549.9 L1623.76,507.18 L1637.64,493.74 L1651.52,526.38 L1665.4,570.54 L1679.28,583.5 L1693.17,583.5 L1707.05,583.5 L1720.93,583.5 L1734.82,583.5 L1748.7,583.5 L1762.58,564.3 L1776.46,558.06 L1790.35,551.34 L1804.23,564.3" fill="none" stroke="#6279ad" stroke-width="1.0" stroke-linejoin="round" opacity="1"/><path d="M999.04,583.5 L1012.92,583.5 L1026.81,583.5 L1040.69,583.5 L1054.57,583.5 L1068.45,583.5 L1082.34,583.5 L1096.22,583.5 L1110.1,583.5 L1123.98,583.5 L1137.87,583.5 L1151.75,583.5 L1165.63,583.5 L1179.51,583.5 L1193.4,583.5 L1207.28,583.5 L1221.16,583.5 L1235.05,578.22 L1248.93,548.94 L1262.81,511.98 L1276.69,501.9 L1290.58,524.46 L1304.46,570.54 L1318.34,583.5 L1332.22,583.5 L1346.11,583.5 L1359.99,583.5 L1373.87,583.5 L1387.75,583.5 L1401.63,583.5 L1415.52,583.5 L1429.4,564.3 L1443.28,551.34 L1457.16,551.34 L1471.05,570.06 L1484.93,583.5 L1498.81,583.5 L1512.69,583.5 L1526.58,583.5 L1540.46,583.5 L1554.34,583.5 L1568.22,583.5 L1582.11,583.5 L1595.99,538.38 L1609.87,493.5 L1623.76,448.62 L1637.64,493.74 L1651.52,499.98 L1665.4,519.18 L1679.28,519.18 L1693.17,525.9 L1707.05,551.34 L1720.93,538.38 L1734.82,570.54 L1748.7,558.06 L1762.58,570.54 L1776.46,570.54 L1790.35,570.54 L1804.23,564.3" fill="none" stroke="#6e9170" stroke-width="1.0" stroke-linejoin="round" opacity="1"/><line x1="999.04" y1="584.08" x2="1012.92" y2="584.08" stroke="#626563" stroke-width="1.5"/><line x1="1012.92" y1="584.08" x2="1804.23" y2="584.08" stroke="#808381" stroke-width="1.55"/><line x1="1235.05" y1="584.08" x2="1318.34" y2="584.08" stroke="#bd7f95" stroke-width="1.55"/><line x1="1415.52" y1="584.08" x2="1484.93" y2="584.08" stroke="#bd7f95" stroke-width="1.55"/><line x1="1582.11" y1="584.08" x2="1804.23" y2="584.08" stroke="#bd7f95" stroke-width="1.55"/><line x1="1582.11" y1="584.08" x2="1595.99" y2="584.08" stroke="#9f7aa9" stroke-width="1.55"/><line x1="1679.28" y1="584.08" x2="1748.7" y2="584.08" stroke="#9f7aa9" stroke-width="1.55"/></svg><div class="legend" style="top:207.8px"><i class="sw" style="left:15.9px;background:#7EB26D"></i><span class="lt" style="left:35.7px;letter-spacing:0.026px">tb-coap-transport - failedMsgs</span><i class="sw" style="left:189.3px;background:#EAB839"></i><span class="lt" style="left:209.1px;letter-spacing:0.038px">tb-coap-transport - successfulMsgs</span><i class="sw" style="left:388.3px;background:#6ED0E0"></i><span class="lt" style="left:408.1px;letter-spacing:0.041px">tb-coap-transport - totalMsgs</span><i class="sw" style="left:556.3px;background:#EF843C"></i><span class="lt" style="left:576.1px;letter-spacing:0.047px">tb-http-transport1 - failedMsgs</span></div><div class="legend" style="top:223.9px"><i class="sw" style="left:15.9px;background:#E24D42"></i><span class="lt" style="left:35.7px;letter-spacing:0.056px">tb-http-transport1 - successfulMsgs</span><i class="sw" style="left:216.3px;background:#1F78C1"></i><span class="lt" style="left:236.1px;letter-spacing:0.043px">tb-http-transport1 - totalMsgs</span><i class="sw" style="left:385.9px;background:#BA43A9"></i><span class="lt" style="left:405.7px;letter-spacing:0.070px">tb-mqtt-transport1 - failedMsgs</span><i class="sw" style="left:564.3px;background:#705DA0"></i><span class="lt" style="left:584.1px;letter-spacing:0.088px">tb-mqtt-transport1 - successfulMsgs</span></div><div class="legend" style="top:240.1px"><i class="sw" style="left:15.9px;background:#508642"></i><span class="lt" style="left:35.7px;letter-spacing:0.073px">tb-mqtt-transport1 - totalMsgs</span></div></section><section class="panel" style="left:65px;top:671px;width:882px;height:280px"><h2 class="ptitle" style="letter-spacing:-0.070px">Core Producer</h2><svg class="chart" width="882" height="280" viewBox="65 671 882 280"><g stroke="rgba(204,204,220,0.16)" stroke-width="1" shape-rendering="crispEdges"><line x1="92" y1="856.5" x2="925" y2="856.5"/><line x1="92" y1="832.5" x2="925" y2="832.5"/><line x1="92" y1="808.5" x2="925" y2="808.5"/><line x1="92" y1="785.5" x2="925" y2="785.5"/><line x1="92" y1="761.5" x2="925" y2="761.5"/><line x1="92" y1="737.5" x2="925" y2="737.5"/><line x1="92" y1="713.5" x2="925" y2="713.5"/></g><g stroke="rgba(204,204,220,0.16)" stroke-width="1"><line x1="96.1" y1="713" x2="96.1" y2="856"/><line x1="207.16" y1="713" x2="207.16" y2="856"/><line x1="318.22" y1="713" x2="318.22" y2="856"/><line x1="429.28" y1="713" x2="429.28" y2="856"/><line x1="540.34" y1="713" x2="540.34" y2="856"/><line x1="651.4" y1="713" x2="651.4" y2="856"/><line x1="762.46" y1="713" x2="762.46" y2="856"/><line x1="873.52" y1="713" x2="873.52" y2="856"/></g><g class="tick"><text x="86.1" y="860.1" text-anchor="end">0</text><text x="86.1" y="836.27" text-anchor="end">10</text><text x="86.1" y="812.43" text-anchor="end">20</text><text x="86.1" y="788.6" text-anchor="end">30</text><text x="86.1" y="764.77" text-anchor="end">40</text><text x="86.1" y="740.93" text-anchor="end">50</text><text x="86.1" y="717.1" text-anchor="end">60</text><text x="96.3" y="872.2" text-anchor="middle">11:20</text><text x="207.36" y="872.2" text-anchor="middle">11:22</text><text x="318.42" y="872.2" text-anchor="middle">11:24</text><text x="429.48" y="872.2" text-anchor="middle">11:26</text><text x="540.54" y="872.2" text-anchor="middle">11:28</text><text x="651.6" y="872.2" text-anchor="middle">11:30</text><text x="762.66" y="872.2" text-anchor="middle">11:32</text><text x="873.72" y="872.2" text-anchor="middle">11:34</text></g><path d="M109.98,856.5 L123.86,856.5 L137.75,856.5 L151.63,856.5 L165.51,856.5 L179.39,856.5 L193.28,856.5 L207.16,856.5 L221.04,856.5 L234.92,856.5 L248.81,856.5 L262.69,856.5 L276.57,856.5 L290.46,856.5 L304.34,856.5 L318.22,856.5 L332.1,856.5 L345.99,856.5 L359.87,830.28 L373.75,791.43 L387.63,780.23 L401.51,799.78 L415.4,844.11 L429.28,856.5 L443.16,856.5 L457.04,856.5 L470.93,856.5 L484.81,856.5 L498.69,856.5 L512.58,856.5 L526.46,856.5 L540.34,837.43 L554.22,824.56 L568.11,824.56 L581.99,841.01 L595.87,856.5 L609.75,856.5 L623.63,856.5 L637.52,856.5 L651.4,856.5 L665.28,856.5 L679.17,856.5 L693.05,856.5 L706.93,811.93 L720.81,767.12 L734.7,722.56 L748.58,767.36 L762.46,773.68 L776.34,793.1 L790.23,793.1 L804.11,799.3 L817.99,825.04 L831.87,812.17 L845.75,843.99 L859.64,831.24 L873.52,843.99 L887.4,843.99 L901.29,843.99 L915.17,837.67 L915.17,856.5 L109.98,856.5Z" fill="rgba(135,160,115,0.12)" stroke="none"/><path d="M123.86,856.5 L137.75,856.5 L151.63,856.5 L165.51,856.5 L179.39,856.5 L193.28,856.5 L207.16,856.5 L221.04,856.5 L234.92,856.5 L248.81,856.5 L262.69,856.5 L276.57,856.5 L290.46,856.5 L304.34,856.5 L318.22,856.5 L332.1,856.5 L345.99,856.5 L359.87,844.11 L373.75,822.89 L387.63,816.22 L401.51,824.56 L415.4,846.73 L429.28,853.04 L443.16,856.5 L457.04,856.5 L470.93,856.5 L484.81,856.5 L498.69,856.5 L512.58,856.5 L526.46,856.5 L540.34,853.52 L554.22,840.77 L568.11,840.77 L581.99,843.15 L595.87,856.5 L609.75,856.5 L623.63,856.5 L637.52,856.5 L651.4,856.5 L665.28,856.5 L679.17,856.5 L693.05,856.5 L706.93,856.5 L720.81,840.29 L734.7,818.37 L748.58,812.17 L762.46,828.14 L776.34,850.3 L790.23,856.5 L804.11,856.5 L817.99,856.5 L831.87,856.5 L845.75,856.5 L859.64,856.5 L873.52,846.97 L887.4,843.99 L901.29,840.77 L915.17,846.97 L915.17,856.5 L123.86,856.5Z" fill="rgba(140,112,155,0.17)" stroke="none"/><path d="M123.86,856.5 L137.75,856.5 L151.63,856.5 L165.51,856.5 L179.39,856.5 L193.28,856.5 L207.16,856.5 L221.04,856.5 L234.92,856.5 L248.81,856.5 L262.69,856.5 L276.57,856.5 L290.46,856.5 L304.34,856.5 L318.22,856.5 L332.1,856.5 L345.99,856.5 L359.87,844.11 L373.75,822.89 L387.63,816.22 L401.51,824.56 L415.4,846.73 L429.28,853.04 L443.16,856.5 L457.04,856.5 L470.93,856.5 L484.81,856.5 L498.69,856.5 L512.58,856.5 L526.46,856.5 L540.34,853.52 L554.22,840.77 L568.11,840.77 L581.99,843.15 L595.87,856.5 L609.75,856.5 L623.63,856.5 L637.52,856.5 L651.4,856.5 L665.28,856.5 L679.17,856.5 L693.05,856.5 L706.93,856.5 L720.81,840.29 L734.7,818.37 L748.58,812.17 L762.46,828.14 L776.34,850.3 L790.23,856.5 L804.11,856.5 L817.99,856.5 L831.87,856.5 L845.75,856.5 L859.64,856.5 L873.52,846.97 L887.4,843.99 L901.29,840.77 L915.17,846.97" fill="none" stroke="#6279ad" stroke-width="1.0" stroke-linejoin="round" opacity="1"/><path d="M109.98,856.5 L123.86,856.5 L137.75,856.5 L151.63,856.5 L165.51,856.5 L179.39,856.5 L193.28,856.5 L207.16,856.5 L221.04,856.5 L234.92,856.5 L248.81,856.5 L262.69,856.5 L276.57,856.5 L290.46,856.5 L304.34,856.5 L318.22,856.5 L332.1,856.5 L345.99,856.5 L359.87,830.28 L373.75,791.43 L387.63,780.23 L401.51,799.78 L415.4,844.11 L429.28,856.5 L443.16,856.5 L457.04,856.5 L470.93,856.5 L484.81,856.5 L498.69,856.5 L512.58,856.5 L526.46,856.5 L540.34,837.43 L554.22,824.56 L568.11,824.56 L581.99,841.01 L595.87,856.5 L609.75,856.5 L623.63,856.5 L637.52,856.5 L651.4,856.5 L665.28,856.5 L679.17,856.5 L693.05,856.5 L706.93,811.93 L720.81,767.12 L734.7,722.56 L748.58,767.36 L762.46,773.68 L776.34,793.1 L790.23,793.1 L804.11,799.3 L817.99,825.04 L831.87,812.17 L845.75,843.99 L859.64,831.24 L873.52,843.99 L887.4,843.99 L901.29,843.99 L915.17,837.67" fill="none" stroke="#6e9170" stroke-width="1.0" stroke-linejoin="round" opacity="1"/><line x1="109.98" y1="857.07" x2="123.86" y2="857.07" stroke="#626563" stroke-width="1.5"/><line x1="123.86" y1="857.07" x2="915.17" y2="857.07" stroke="#808381" stroke-width="1.55"/><line x1="345.99" y1="857.07" x2="429.28" y2="857.07" stroke="#bd7f95" stroke-width="1.55"/><line x1="526.46" y1="857.07" x2="595.87" y2="857.07" stroke="#bd7f95" stroke-width="1.55"/><line x1="693.05" y1="857.07" x2="915.17" y2="857.07" stroke="#bd7f95" stroke-width="1.55"/><line x1="693.05" y1="857.07" x2="706.93" y2="857.07" stroke="#9f7aa9" stroke-width="1.55"/><line x1="790.23" y1="857.07" x2="859.64" y2="857.07" stroke="#9f7aa9" stroke-width="1.55"/></svg><div class="legend" style="top:209px"><i class="sw" style="left:16.8px;background:#7EB26D"></i><span class="lt" style="left:36.6px;letter-spacing:0.026px">tb-coap-transport - failedMsgs</span><i class="sw" style="left:190.2px;background:#EAB839"></i><span class="lt" style="left:210px;letter-spacing:0.038px">tb-coap-transport - successfulMsgs</span><i class="sw" style="left:389.2px;background:#6ED0E0"></i><span class="lt" style="left:409px;letter-spacing:0.041px">tb-coap-transport - totalMsgs</span><i class="sw" style="left:557.2px;background:#EF843C"></i><span class="lt" style="left:577px;letter-spacing:0.047px">tb-http-transport1 - failedMsgs</span></div><div class="legend" style="top:225.1px"><i class="sw" style="left:16.8px;background:#E24D42"></i><span class="lt" style="left:36.6px;letter-spacing:0.056px">tb-http-transport1 - successfulMsgs</span><i class="sw" style="left:217.2px;background:#1F78C1"></i><span class="lt" style="left:237px;letter-spacing:0.043px">tb-http-transport1 - totalMsgs</span><i class="sw" style="left:386.8px;background:#BA43A9"></i><span class="lt" style="left:406.6px;letter-spacing:0.070px">tb-mqtt-transport1 - failedMsgs</span><i class="sw" style="left:565.2px;background:#705DA0"></i><span class="lt" style="left:585px;letter-spacing:0.088px">tb-mqtt-transport1 - successfulMsgs</span></div><div class="legend" style="top:241.2px"><i class="sw" style="left:16.8px;background:#508642"></i><span class="lt" style="left:36.6px;letter-spacing:0.073px">tb-mqtt-transport1 - totalMsgs</span></div></section><section class="panel" style="left:955px;top:671px;width:882px;height:280px"><h2 class="ptitle" style="letter-spacing:-0.161px">Rule Engine Producer</h2><svg class="chart" width="882" height="280" viewBox="955 671 882 280"><g stroke="rgba(204,204,220,0.16)" stroke-width="1" shape-rendering="crispEdges"><line x1="981" y1="856.5" x2="1814" y2="856.5"/><line x1="981" y1="832.5" x2="1814" y2="832.5"/><line x1="981" y1="808.5" x2="1814" y2="808.5"/><line x1="981" y1="785.5" x2="1814" y2="785.5"/><line x1="981" y1="761.5" x2="1814" y2="761.5"/><line x1="981" y1="737.5" x2="1814" y2="737.5"/><line x1="981" y1="713.5" x2="1814" y2="713.5"/></g><g stroke="rgba(204,204,220,0.16)" stroke-width="1"><line x1="985.16" y1="713" x2="985.16" y2="856"/><line x1="1096.22" y1="713" x2="1096.22" y2="856"/><line x1="1207.28" y1="713" x2="1207.28" y2="856"/><line x1="1318.34" y1="713" x2="1318.34" y2="856"/><line x1="1429.4" y1="713" x2="1429.4" y2="856"/><line x1="1540.46" y1="713" x2="1540.46" y2="856"/><line x1="1651.52" y1="713" x2="1651.52" y2="856"/><line x1="1762.58" y1="713" x2="1762.58" y2="856"/></g><g class="tick"><text x="975.2" y="860.1" text-anchor="end">0</text><text x="975.2" y="836.27" text-anchor="end">5</text><text x="975.2" y="812.43" text-anchor="end">10</text><text x="975.2" y="788.6" text-anchor="end">15</text><text x="975.2" y="764.77" text-anchor="end">20</text><text x="975.2" y="740.93" text-anchor="end">25</text><text x="975.2" y="717.1" text-anchor="end">30</text><text x="985.36" y="872.2" text-anchor="middle">11:20</text><text x="1096.42" y="872.2" text-anchor="middle">11:22</text><text x="1207.48" y="872.2" text-anchor="middle">11:24</text><text x="1318.54" y="872.2" text-anchor="middle">11:26</text><text x="1429.6" y="872.2" text-anchor="middle">11:28</text><text x="1540.66" y="872.2" text-anchor="middle">11:30</text><text x="1651.72" y="872.2" text-anchor="middle">11:32</text><text x="1762.78" y="872.2" text-anchor="middle">11:34</text></g><path d="M999.04,856.5 L1012.92,856.5 L1026.81,856.5 L1040.69,856.5 L1054.57,856.5 L1068.45,856.5 L1082.34,856.5 L1096.22,856.5 L1110.1,856.5 L1123.98,856.5 L1137.87,856.5 L1151.75,856.5 L1165.63,856.5 L1179.51,856.5 L1193.4,856.5 L1207.28,856.5 L1221.16,856.5 L1235.05,856.5 L1248.93,829.33 L1262.81,791.43 L1276.69,780.23 L1290.58,799.06 L1304.46,843.63 L1318.34,856.5 L1332.22,856.5 L1346.11,856.5 L1359.99,856.5 L1373.87,856.5 L1387.75,856.5 L1401.63,856.5 L1415.52,856.5 L1429.4,837.1 L1443.28,824.8 L1457.16,824.8 L1471.05,843.63 L1484.93,856.5 L1498.81,856.5 L1512.69,856.5 L1526.58,856.5 L1540.46,856.5 L1554.34,856.5 L1568.22,856.5 L1582.11,856.5 L1595.99,811.69 L1609.87,767.12 L1623.76,722.56 L1637.64,767.36 L1651.52,773.56 L1665.4,792.63 L1679.28,792.63 L1693.17,799.3 L1707.05,824.56 L1720.93,811.69 L1734.82,843.63 L1748.7,831.24 L1762.58,843.63 L1776.46,843.63 L1790.35,843.63 L1804.23,837.43 L1804.23,856.5 L999.04,856.5Z" fill="rgba(135,160,115,0.12)" stroke="none"/><path d="M1012.92,856.5 L1026.81,856.5 L1040.69,856.5 L1054.57,856.5 L1068.45,856.5 L1082.34,856.5 L1096.22,856.5 L1110.1,856.5 L1123.98,856.5 L1137.87,856.5 L1151.75,856.5 L1165.63,856.5 L1179.51,856.5 L1193.4,856.5 L1207.28,856.5 L1221.16,856.5 L1235.05,856.5 L1248.93,829.81 L1262.81,789.29 L1276.69,776.42 L1290.58,793.58 L1304.46,838.39 L1318.34,850.3 L1332.22,856.5 L1346.11,856.5 L1359.99,856.5 L1373.87,856.5 L1387.75,856.5 L1401.63,856.5 L1415.52,856.5 L1429.4,850.3 L1443.28,824.8 L1457.16,824.8 L1471.05,831.24 L1484.93,856.5 L1498.81,856.5 L1512.69,856.5 L1526.58,856.5 L1540.46,856.5 L1554.34,856.5 L1568.22,856.5 L1582.11,856.5 L1595.99,856.5 L1609.87,823.13 L1623.76,780.71 L1637.64,767.36 L1651.52,799.78 L1665.4,843.63 L1679.28,856.5 L1693.17,856.5 L1707.05,856.5 L1720.93,856.5 L1734.82,856.5 L1748.7,856.5 L1762.58,837.43 L1776.46,831.24 L1790.35,824.56 L1804.23,837.43 L1804.23,856.5 L1012.92,856.5Z" fill="rgba(140,112,155,0.17)" stroke="none"/><path d="M1012.92,856.5 L1026.81,856.5 L1040.69,856.5 L1054.57,856.5 L1068.45,856.5 L1082.34,856.5 L1096.22,856.5 L1110.1,856.5 L1123.98,856.5 L1137.87,856.5 L1151.75,856.5 L1165.63,856.5 L1179.51,856.5 L1193.4,856.5 L1207.28,856.5 L1221.16,856.5 L1235.05,856.5 L1248.93,829.81 L1262.81,789.29 L1276.69,776.42 L1290.58,793.58 L1304.46,838.39 L1318.34,850.3 L1332.22,856.5 L1346.11,856.5 L1359.99,856.5 L1373.87,856.5 L1387.75,856.5 L1401.63,856.5 L1415.52,856.5 L1429.4,850.3 L1443.28,824.8 L1457.16,824.8 L1471.05,831.24 L1484.93,856.5 L1498.81,856.5 L1512.69,856.5 L1526.58,856.5 L1540.46,856.5 L1554.34,856.5 L1568.22,856.5 L1582.11,856.5 L1595.99,856.5 L1609.87,823.13 L1623.76,780.71 L1637.64,767.36 L1651.52,799.78 L1665.4,843.63 L1679.28,856.5 L1693.17,856.5 L1707.05,856.5 L1720.93,856.5 L1734.82,856.5 L1748.7,856.5 L1762.58,837.43 L1776.46,831.24 L1790.35,824.56 L1804.23,837.43" fill="none" stroke="#6279ad" stroke-width="1.0" stroke-linejoin="round" opacity="1"/><path d="M999.04,856.5 L1012.92,856.5 L1026.81,856.5 L1040.69,856.5 L1054.57,856.5 L1068.45,856.5 L1082.34,856.5 L1096.22,856.5 L1110.1,856.5 L1123.98,856.5 L1137.87,856.5 L1151.75,856.5 L1165.63,856.5 L1179.51,856.5 L1193.4,856.5 L1207.28,856.5 L1221.16,856.5 L1235.05,856.5 L1248.93,829.33 L1262.81,791.43 L1276.69,780.23 L1290.58,799.06 L1304.46,843.63 L1318.34,856.5 L1332.22,856.5 L1346.11,856.5 L1359.99,856.5 L1373.87,856.5 L1387.75,856.5 L1401.63,856.5 L1415.52,856.5 L1429.4,837.1 L1443.28,824.8 L1457.16,824.8 L1471.05,843.63 L1484.93,856.5 L1498.81,856.5 L1512.69,856.5 L1526.58,856.5 L1540.46,856.5 L1554.34,856.5 L1568.22,856.5 L1582.11,856.5 L1595.99,811.69 L1609.87,767.12 L1623.76,722.56 L1637.64,767.36 L1651.52,773.56 L1665.4,792.63 L1679.28,792.63 L1693.17,799.3 L1707.05,824.56 L1720.93,811.69 L1734.82,843.63 L1748.7,831.24 L1762.58,843.63 L1776.46,843.63 L1790.35,843.63 L1804.23,837.43" fill="none" stroke="#6e9170" stroke-width="1.0" stroke-linejoin="round" opacity="1"/><line x1="999.04" y1="857.07" x2="1012.92" y2="857.07" stroke="#626563" stroke-width="1.5"/><line x1="1012.92" y1="857.07" x2="1804.23" y2="857.07" stroke="#808381" stroke-width="1.55"/><line x1="1235.05" y1="857.07" x2="1318.34" y2="857.07" stroke="#bd7f95" stroke-width="1.55"/><line x1="1415.52" y1="857.07" x2="1484.93" y2="857.07" stroke="#bd7f95" stroke-width="1.55"/><line x1="1582.11" y1="857.07" x2="1804.23" y2="857.07" stroke="#bd7f95" stroke-width="1.55"/><line x1="1582.11" y1="857.07" x2="1595.99" y2="857.07" stroke="#9f7aa9" stroke-width="1.55"/><line x1="1679.28" y1="857.07" x2="1748.7" y2="857.07" stroke="#9f7aa9" stroke-width="1.55"/></svg><div class="legend" style="top:209px"><i class="sw" style="left:15.9px;background:#7EB26D"></i><span class="lt" style="left:35.7px;letter-spacing:0.026px">tb-coap-transport - failedMsgs</span><i class="sw" style="left:189.3px;background:#EAB839"></i><span class="lt" style="left:209.1px;letter-spacing:0.038px">tb-coap-transport - successfulMsgs</span><i class="sw" style="left:388.3px;background:#6ED0E0"></i><span class="lt" style="left:408.1px;letter-spacing:0.041px">tb-coap-transport - totalMsgs</span><i class="sw" style="left:556.3px;background:#EF843C"></i><span class="lt" style="left:576.1px;letter-spacing:0.047px">tb-http-transport1 - failedMsgs</span></div><div class="legend" style="top:225.1px"><i class="sw" style="left:15.9px;background:#E24D42"></i><span class="lt" style="left:35.7px;letter-spacing:0.056px">tb-http-transport1 - successfulMsgs</span><i class="sw" style="left:216.3px;background:#1F78C1"></i><span class="lt" style="left:236.1px;letter-spacing:0.043px">tb-http-transport1 - totalMsgs</span><i class="sw" style="left:385.9px;background:#BA43A9"></i><span class="lt" style="left:405.7px;letter-spacing:0.070px">tb-mqtt-transport1 - failedMsgs</span><i class="sw" style="left:564.3px;background:#705DA0"></i><span class="lt" style="left:584.1px;letter-spacing:0.088px">tb-mqtt-transport1 - successfulMsgs</span></div><div class="legend" style="top:241.2px"><i class="sw" style="left:15.9px;background:#508642"></i><span class="lt" style="left:35.7px;letter-spacing:0.073px">tb-mqtt-transport1 - totalMsgs</span></div></section>
</main>
</div>
</body></html>
